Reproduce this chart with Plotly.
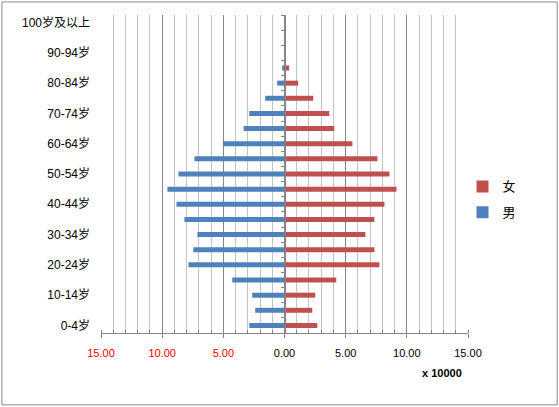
import plotly.graph_objects as go

# age groups, bottom to top
ages = ['0-4岁', '5-9岁', '10-14岁', '15-19岁', '20-24岁', '25-29岁', '30-34岁',
        '35-39岁', '40-44岁', '45-49岁', '50-54岁', '55-59岁', '60-64岁', '65-69岁',
        '70-74岁', '75-79岁', '80-84岁', '85-89岁', '90-94岁', '95-99岁', '100岁及以上']

# population, x10000
male = [2.88, 2.39, 2.64, 4.27, 7.85, 7.45, 7.12, 8.18, 8.83, 9.57, 8.67,
        7.36, 5.03, 3.34, 2.88, 1.58, 0.60, 0.19, 0.0, 0.0, 0.0]
female = [2.68, 2.27, 2.51, 4.23, 7.76, 7.35, 6.61, 7.35, 8.17, 9.15, 8.58,
          7.60, 5.55, 4.07, 3.66, 2.35, 1.12, 0.38, 0.0, 0.0, 0.0]

x_ticks = [-15, -10, -5, 0, 5, 10, 15]
x_labels = ['15.00', '10.00', '5.00', '0.00', '5.00', '10.00', '15.00']

font = 'Liberation Sans, Noto Sans CJK SC, sans-serif'
blue = '#4F81BD'
red = '#C0504D'

# negative side labels are red
ticktext = []
for v, t in zip(x_ticks, x_labels):
    if v < 0:
        ticktext.append('<span style="color:#FF0000">' + t + '</span>')
    else:
        ticktext.append(t)

fig = go.Figure()
fig.add_trace(go.Bar(y=ages, x=female, name='女', orientation='h',
                     marker=dict(color=red, line=dict(width=0)),
                     width=0.33, legendgroup='f'))
fig.add_trace(go.Bar(y=ages, x=[-v for v in male], name='男', orientation='h',
                     marker=dict(color=blue, line=dict(width=0)),
                     width=0.33, legendgroup='m'))
# dummy trace so the category axis at zero is drawn
fig.add_trace(go.Scatter(x=[None], y=[None], yaxis='y2', showlegend=False,
                         hoverinfo='skip'))

fig.update_layout(
    width=559, height=407,
    margin=dict(l=101, r=91, t=15, b=74, autoexpand=False),
    barmode='relative',
    plot_bgcolor='white', paper_bgcolor='white',
    font=dict(family=font, size=11, color='black'),
    showlegend=True,
    legend=dict(x=0.985, y=0.42, xanchor='left', yanchor='middle',
                font=dict(size=13), tracegroupgap=6, itemwidth=30,
                bgcolor='rgba(0,0,0,0)'),
    xaxis=dict(range=[-15, 15], tickvals=x_ticks, ticktext=ticktext,
               showgrid=True, gridcolor='#868686', gridwidth=1,
               zeroline=False, showline=True, linecolor='#868686',
               ticks='outside', ticklen=4, tickcolor='#868686',
               ticklabelstandoff=6, tickfont=dict(size=11), automargin=False,
               minor=dict(dtick=1, tick0=0, showgrid=True, gridcolor='#C4C4C4',
                          ticks='inside', ticklen=3, tickcolor='#868686')),
    yaxis=dict(type='category', range=[-0.5, 20.5], automargin=False,
               tickvals=ages[::2], showgrid=False, zeroline=False,
               showline=False, ticks='', ticklabelstandoff=10,
               tickfont=dict(size=12)),
    yaxis2=dict(overlaying='y', anchor='free', position=0.5,
                range=[-0.5, 20.5], tick0=-0.5, dtick=1, automargin=False,
                showgrid=False, zeroline=False, showticklabels=False,
                showline=True, linecolor='#868686', linewidth=1,
                ticks='outside', ticklen=4, tickcolor='#868686'),
)

fig.add_annotation(text='<b>x 10000</b>', xref='paper', yref='paper',
                   x=0.93, y=-0.15, xanchor='center', showarrow=False,
                   font=dict(size=11))

# outer chart border
fig.add_shape(type='rect', xref='paper', yref='paper',
              x0=-0.27, x1=1.243, y0=-0.226, y1=1.041,
              line=dict(color='#888888', width=1))

fig.write_html('out.html', config={'displayModeBar': False},
               post_script="document.body.style.margin='0';")
